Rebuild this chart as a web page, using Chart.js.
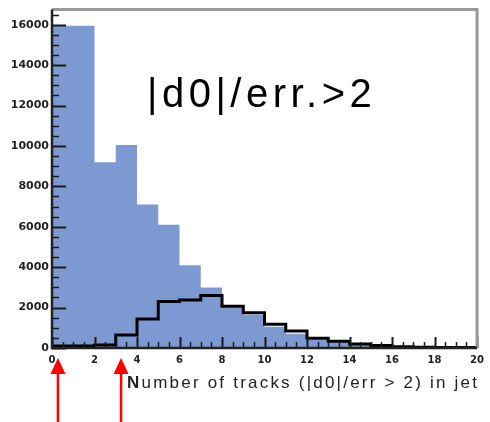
<!DOCTYPE html>
<html>
<head>
<meta charset="utf-8">
<script src="https://cdn.jsdelivr.net/npm/chart.js@4.4.0/dist/chart.umd.min.js"></script>
<style>
  html, body { margin: 0; padding: 0; background: #fff; }
  #wrap { width: 490px; height: 422px; }
</style>
</head>
<body>
<div id="wrap"><canvas id="histo" width="490" height="422"></canvas></div>
<script>
// lower edge of each bin (bin width 1)
const binLow = [0, 1, 2, 3, 4, 5, 6, 7, 8, 9, 10, 11, 12, 13, 14, 15, 16, 17, 18, 19];
const binHigh = 20;
// filled blue histogram
const allJets = [15950, 9200, 10050, 7100, 6100, 4100, 3000, 2000, 1650, 1050, 700, 420, 300, 180, 80, 40, 20, 10, 10, 5];
// black outline histogram
const bJets = [100, 150, 640, 1430, 2300, 2370, 2600, 2070, 1740, 1180, 840, 480, 330, 200, 120, 60, 40, 30, 20, 20];

const yMax = 16750;
const yTicks = [0, 2000, 4000, 6000, 8000, 10000, 12000, 14000, 16000];
const xTicks = [0, 2, 4, 6, 8, 10, 12, 14, 16, 18, 20];
const cutLabel = '|d0|/err.>2';
const xTitle = 'Number of tracks (|d0|/err > 2) in jet';
// positions of the red arrows (in x units)
const arrowX = [0.28, 3.25];

// point i carries bin i; 'before' keeps it flat over [x_i, x_i+1]
function stepPoints(vals) {
    const pts = [{ x: binLow[0], y: vals[0] }];
    binLow.forEach((x, i) => pts.push({ x: x + 1, y: vals[i] }));
    return pts;
}

const labelFont = '"DejaVu Sans", "Liberation Sans", sans-serif';

// ROOT style frame + inward ticks, big label, axis title, red arrows
const decor = {
    id: 'decor',
    afterDatasetsDraw(chart) {
        const ctx = chart.ctx;
        const a = chart.chartArea;
        const xs = chart.scales.x;
        const ys = chart.scales.y;
        ctx.save();

        // ticks
        ctx.strokeStyle = '#1a1a1a';
        for (let v = 0; v <= yMax; v += 500) {
            const y = Math.round(ys.getPixelForValue(v)) + 0.5;
            const major = v % 2000 === 0;
            ctx.lineWidth = major ? 2 : 1.5;
            ctx.beginPath();
            ctx.moveTo(a.left, y);
            ctx.lineTo(a.left + (major ? 14 : 7), y);
            ctx.stroke();
        }
        for (let v = 0; v <= binHigh; v += 0.5) {
            const x = Math.round(xs.getPixelForValue(v)) + 0.5;
            const major = v % 2 === 0;
            ctx.lineWidth = major ? 2 : 1.5;
            ctx.beginPath();
            ctx.moveTo(x, a.bottom);
            ctx.lineTo(x, a.bottom - (major ? 11 : 6));
            ctx.stroke();
        }

        // frame
        ctx.strokeStyle = '#999';
        ctx.lineWidth = 3;
        ctx.beginPath();
        ctx.moveTo(a.left, a.top);
        ctx.lineTo(a.right, a.top);
        ctx.lineTo(a.right, a.bottom);
        ctx.stroke();
        ctx.strokeStyle = '#222';
        ctx.lineWidth = 2.5;
        ctx.beginPath();
        ctx.moveTo(a.left, a.top);
        ctx.lineTo(a.left, a.bottom);
        ctx.lineTo(a.right, a.bottom);
        ctx.stroke();

        // big cut label
        ctx.fillStyle = '#000';
        ctx.font = '40px "Liberation Sans", Arial, sans-serif';
        ctx.textBaseline = 'alphabetic';
        ctx.textAlign = 'left';
        ctx.letterSpacing = '4.5px';
        ctx.fillText(cutLabel, 147, 107);

        // x axis title, right aligned at the frame edge, spread to ~350px
        ctx.fillStyle = '#222';
        ctx.font = '17px "Liberation Sans", Arial, sans-serif';
        ctx.letterSpacing = '0px';
        const w = ctx.measureText(xTitle).width;
        const sp = Math.max(0, (350 - w) / (xTitle.length - 1));
        ctx.letterSpacing = sp.toFixed(2) + 'px';
        const x0 = a.right - 350;
        ctx.font = 'bold 17px "Liberation Sans", Arial, sans-serif';
        ctx.fillText(xTitle[0], x0, 388);
        const wN = ctx.measureText(xTitle[0]).width;
        ctx.font = '17px "Liberation Sans", Arial, sans-serif';
        ctx.fillText(xTitle.slice(1), x0 + wN, 388);
        ctx.letterSpacing = '0px';

        // red arrows
        ctx.fillStyle = '#ff0000';
        ctx.strokeStyle = '#ff0000';
        arrowX.forEach(v => {
            const x = xs.getPixelForValue(v);
            ctx.lineWidth = 2.5;
            ctx.beginPath();
            ctx.moveTo(x, 370);
            ctx.lineTo(x, 422);
            ctx.stroke();
            ctx.beginPath();
            ctx.moveTo(x, 358);
            ctx.lineTo(x - 7.5, 374);
            ctx.lineTo(x + 7.5, 374);
            ctx.closePath();
            ctx.fill();
        });
        ctx.restore();
    }
};

new Chart(document.getElementById('histo'), {
    type: 'line',
    data: {
        datasets: [
            {
                label: 'all',
                data: stepPoints(allJets),
                stepped: 'before',
                fill: 'origin',
                backgroundColor: '#7d99d1',
                borderWidth: 0,
                borderColor: 'rgba(0,0,0,0)',
                pointRadius: 0,
                order: 2
            },
            {
                label: 'b',
                data: stepPoints(bJets),
                stepped: 'before',
                fill: false,
                borderColor: '#000',
                borderWidth: 3,
                pointRadius: 0,
                order: 1
            }
        ]
    },
    options: {
        responsive: false,
        animation: false,
        events: [],
        layout: { padding: { top: 6, right: 7, left: 0, bottom: 0 } },
        plugins: { legend: { display: false }, tooltip: { enabled: false } },
        scales: {
            x: {
                type: 'linear',
                min: 0,
                max: binHigh,
                grid: { display: false, drawTicks: false },
                border: { display: false },
                afterBuildTicks(scale) { scale.ticks = xTicks.map(v => ({ value: v })); },
                ticks: {
                    autoSkip: false,
                    maxRotation: 0,
                    padding: 6,
                    color: '#222',
                    font: { family: labelFont, size: 10, weight: 'bold' }
                },
                afterFit(scale) { scale.height = 74; }
            },
            y: {
                min: 0,
                max: yMax,
                grid: { display: false, drawTicks: false },
                border: { display: false },
                afterBuildTicks(scale) { scale.ticks = yTicks.map(v => ({ value: v })); },
                ticks: {
                    padding: 3,
                    color: '#222',
                    font: { family: labelFont, size: 11, weight: 'bold' },
                    callback: v => String(v)
                },
                afterFit(scale) { scale.width = 52; }
            }
        }
    },
    plugins: [decor]
});
</script>
</body>
</html>
